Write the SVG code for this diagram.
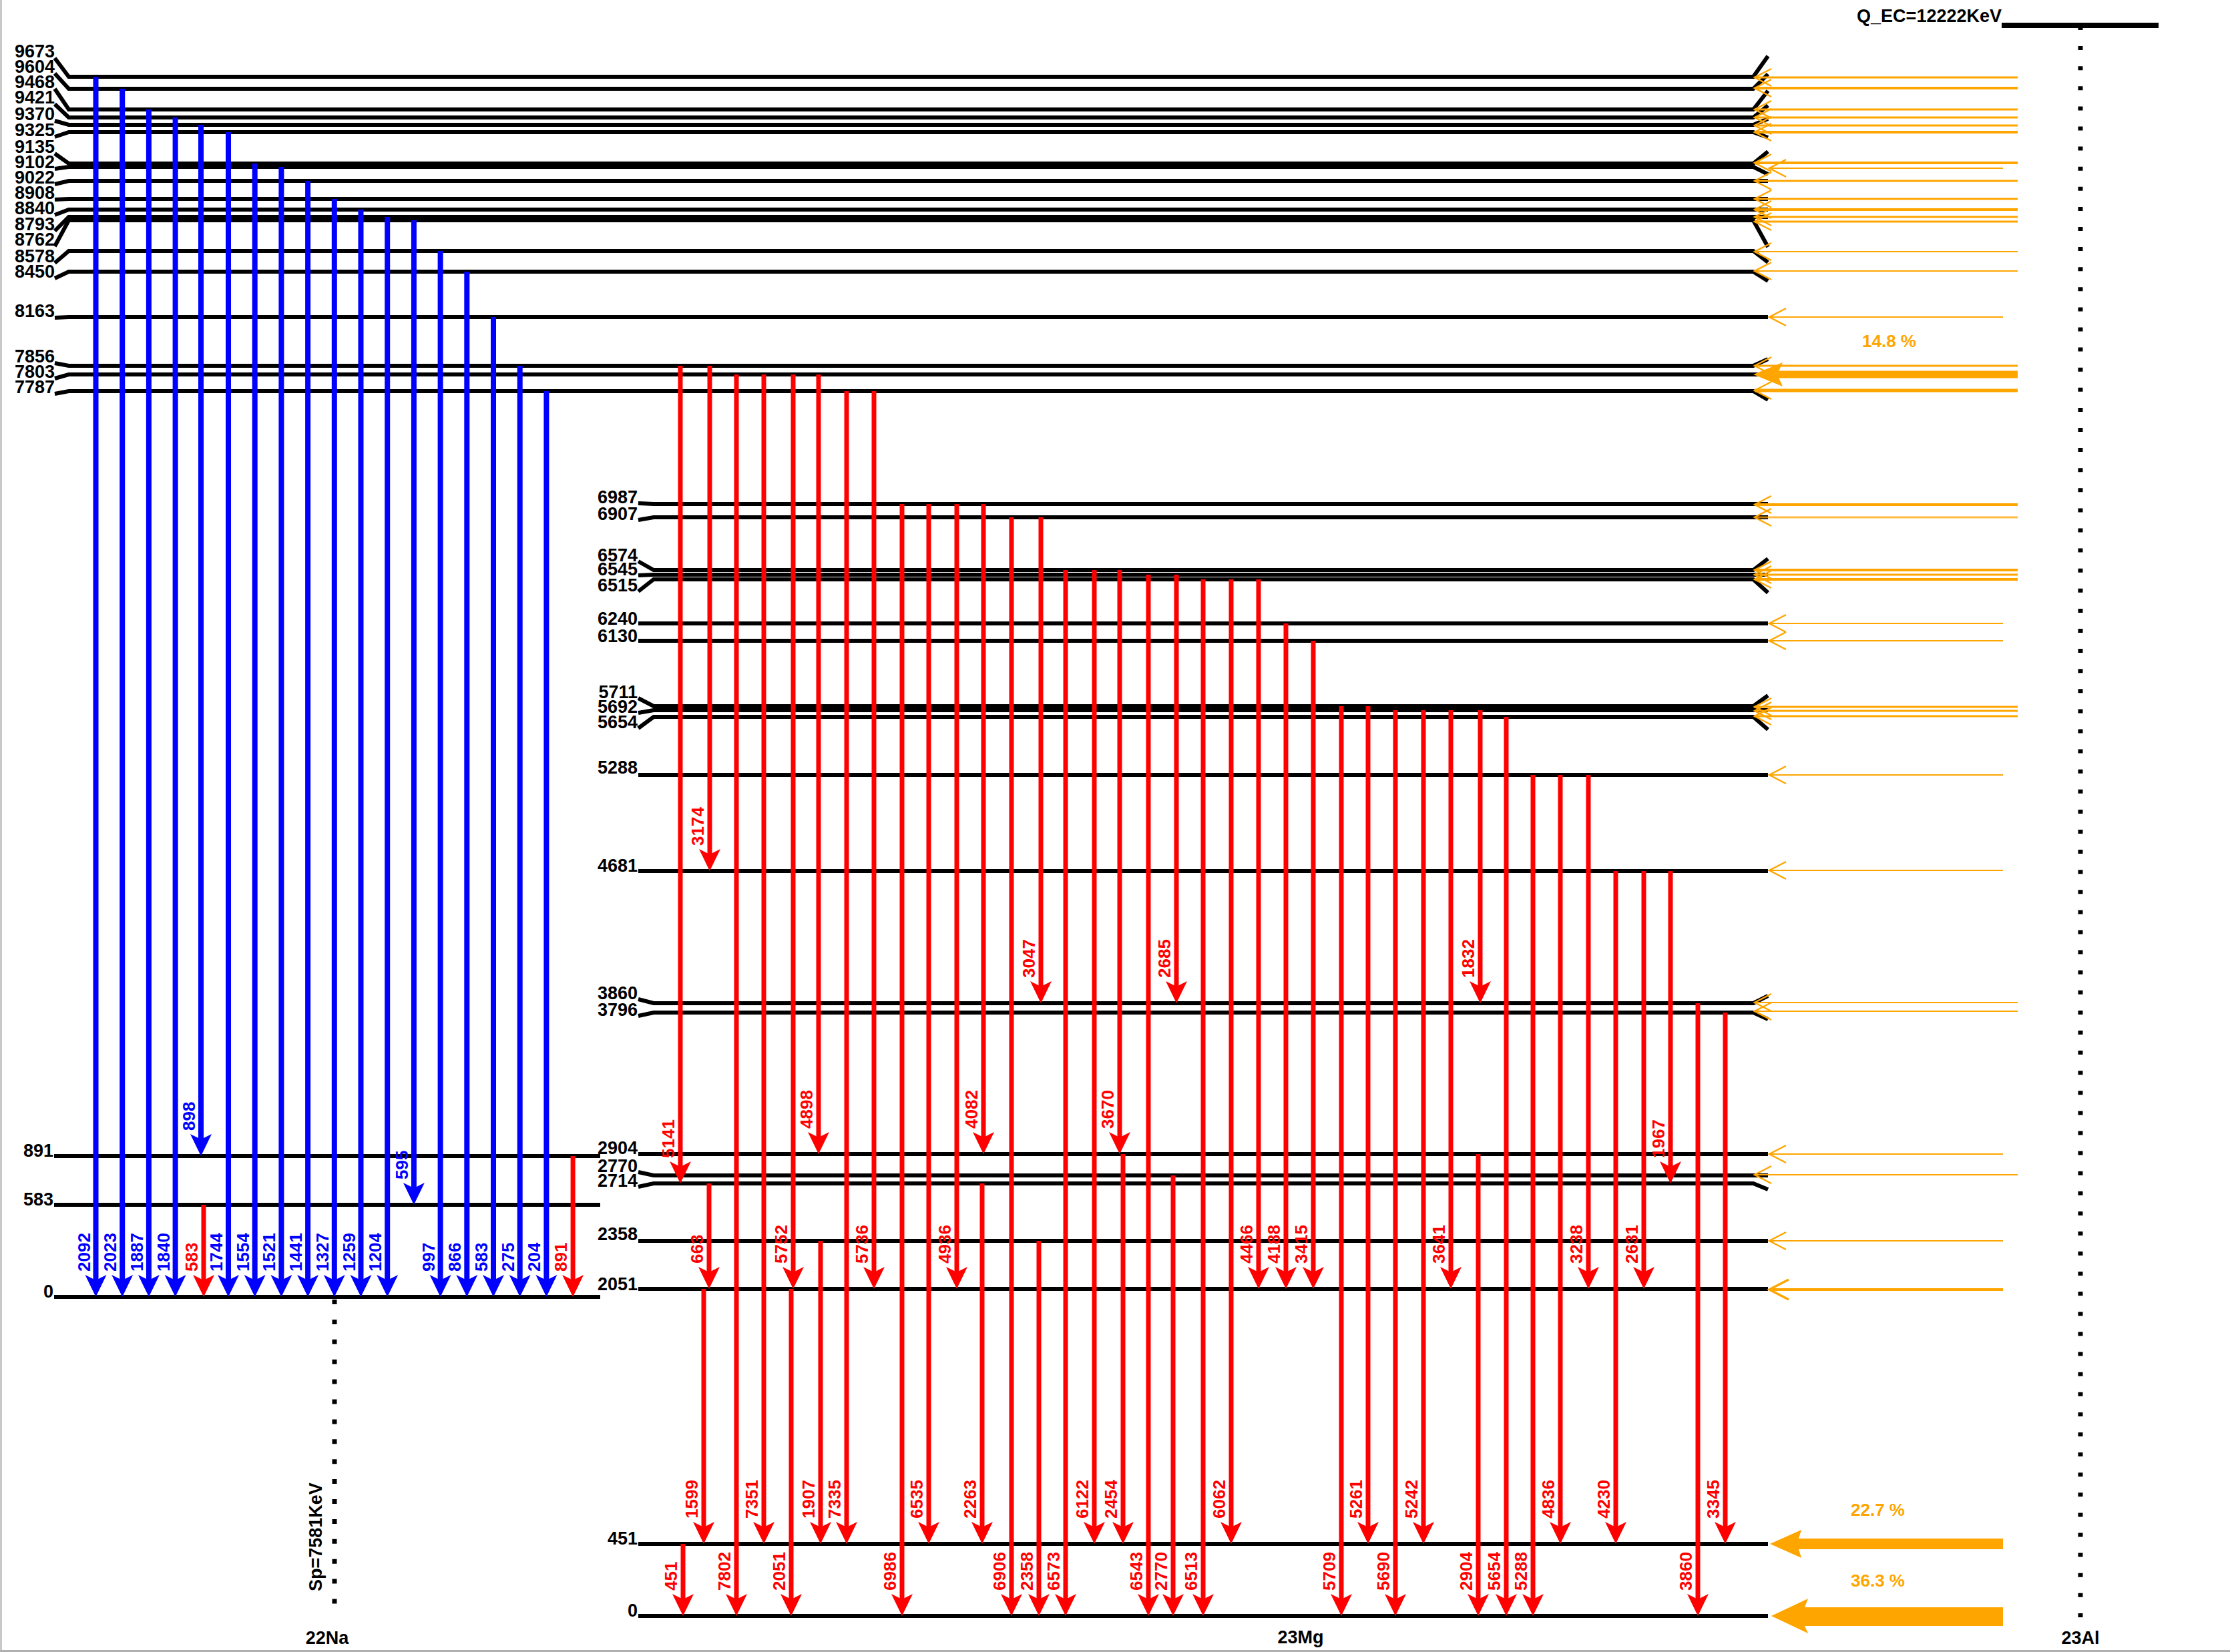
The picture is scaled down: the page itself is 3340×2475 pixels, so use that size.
<svg xmlns="http://www.w3.org/2000/svg" width="3340" height="2475" viewBox="0 0 3340 2475">
<style>
text{font-family:"Liberation Sans",Arial,Helvetica,sans-serif;font-weight:bold}
.lv{fill:none;stroke:#000;stroke-width:6}
.t{font-size:27px;fill:#000}
.e{text-anchor:end}
.sb{fill:none;stroke:#0000ff;stroke-width:8}
.sr{fill:none;stroke:#ff0000;stroke-width:7}
.tb{font-size:26px;fill:#0000ff}
.tr{font-size:26px;fill:#ff0000}
.o{fill:none;stroke:#ffa500}
.of{fill:#ffa500}
.to{font-size:26px;fill:#ffa500}
.dot{fill:none;stroke:#000;stroke-width:7}
</style>
<defs>
<marker id="ahb" viewBox="-10 -18 36 36" markerWidth="36" markerHeight="36" markerUnits="userSpaceOnUse" refX="0" refY="0" orient="auto" overflow="visible"><path d="M25,0 L-8,-16 L0,0 L-8,16 Z" fill="#0000ff"/></marker>
<marker id="ahr" viewBox="-10 -18 36 36" markerWidth="36" markerHeight="36" markerUnits="userSpaceOnUse" refX="0" refY="0" orient="auto" overflow="visible"><path d="M25,0 L-8,-16 L0,0 L-8,16 Z" fill="#ff0000"/></marker>
<marker id="aho" viewBox="-28 -16 33 32" markerWidth="33" markerHeight="32" markerUnits="userSpaceOnUse" refX="0" refY="0" orient="auto" overflow="visible"><path d="M-25,-13 L0,0 L-25,13" fill="none" stroke="#ffa500" stroke-width="2.5"/></marker>
<marker id="ahob" viewBox="-32 -18 37 36" markerWidth="37" markerHeight="36" markerUnits="userSpaceOnUse" refX="0" refY="0" orient="auto" overflow="visible"><path d="M-29,-15 L0,0 L-29,15" fill="none" stroke="#ffa500" stroke-width="3.5"/></marker>
</defs>
<rect width="3340" height="2475" fill="#fff"/>
<line x1="1.5" y1="0" x2="1.5" y2="2475" stroke="#c8c8c8" stroke-width="3"/>
<line x1="0" y1="2473.5" x2="3340" y2="2473.5" stroke="#b0b0b0" stroke-width="3"/>

<!-- upper 23Mg levels (above Sp) -->
<g id="lv-9673"><path class="lv" d="M82,87 L103,115 H2626 L2648,84"/><text class="t e" x="82" y="86">9673</text></g>
<g id="lv-9604"><path class="lv" d="M82,110 L103,133 H2626 L2648,111"/><text class="t e" x="82" y="109">9604</text></g>
<g id="lv-9468"><path class="lv" d="M82,133 L103,164 H2626 L2648,136"/><text class="t e" x="82" y="132">9468</text></g>
<g id="lv-9421"><path class="lv" d="M82,156 L103,176 H2626 L2648,158"/><text class="t e" x="82" y="155">9421</text></g>
<g id="lv-9370"><path class="lv" d="M82,181 L103,187 H2626 L2648,178"/><text class="t e" x="82" y="180">9370</text></g>
<g id="lv-9325"><path class="lv" d="M82,205 L103,198 H2626 L2648,206"/><text class="t e" x="82" y="204">9325</text></g>
<g id="lv-9135"><path class="lv" d="M82,230 L103,245 H2626 L2648,227"/><text class="t e" x="82" y="229">9135</text></g>
<g id="lv-9102"><path class="lv" d="M82,253 L103,250 H2626 L2648,261"/><text class="t e" x="82" y="252">9102</text></g>
<g id="lv-9022"><path class="lv" d="M82,276 L103,271 H2648"/><text class="t e" x="82" y="275">9022</text></g>
<g id="lv-8908"><path class="lv" d="M82,299 L103,298 H2648"/><text class="t e" x="82" y="298">8908</text></g>
<g id="lv-8840"><path class="lv" d="M82,322 L103,314 H2648"/><text class="t e" x="82" y="321">8840</text></g>
<g id="lv-8793"><path class="lv" d="M82,346 L103,325 H2648"/><text class="t e" x="82" y="345">8793</text></g>
<g id="lv-8762"><path class="lv" d="M82,369 L103,330 H2626 L2648,370"/><text class="t e" x="82" y="368">8762</text></g>
<g id="lv-8578"><path class="lv" d="M82,394 L103,376 H2626 L2648,393"/><text class="t e" x="82" y="393">8578</text></g>
<g id="lv-8450"><path class="lv" d="M82,417 L103,407 H2626 L2648,421"/><text class="t e" x="82" y="416">8450</text></g>
<g id="lv-8163"><path class="lv" d="M82,476 L103,475 H2648"/><text class="t e" x="82" y="475">8163</text></g>
<g id="lv-7856"><path class="lv" d="M82,544 L103,548 H2626 L2648,538"/><text class="t e" x="82" y="543">7856</text></g>
<g id="lv-7803"><path class="lv" d="M82,567 L103,561 H2648"/><text class="t e" x="82" y="566">7803</text></g>
<g id="lv-7787"><path class="lv" d="M82,590 L103,586 H2626 L2648,599"/><text class="t e" x="82" y="589">7787</text></g>

<!-- lower 23Mg levels -->
<g id="lv-6987"><path class="lv" d="M956,754 L979,755 H2648"/><text class="t e" x="955" y="754">6987</text></g>
<g id="lv-6907"><path class="lv" d="M956,779 L979,775 H2648"/><text class="t e" x="955" y="779">6907</text></g>
<g id="lv-6574"><path class="lv" d="M956,841 L979,854 H2626 L2648,837"/><text class="t e" x="955" y="841">6574</text></g>
<g id="lv-6545"><path class="lv" d="M956,862 L979,861 H2648"/><text class="t e" x="955" y="862">6545</text></g>
<g id="lv-6515"><path class="lv" d="M956,886 L979,868 H2626 L2648,888"/><text class="t e" x="955" y="886">6515</text></g>
<g id="lv-6240"><path class="lv" d="M956,934 H2648"/><text class="t e" x="955" y="936">6240</text></g>
<g id="lv-6130"><path class="lv" d="M956,960 H2648"/><text class="t e" x="955" y="962">6130</text></g>
<g id="lv-5711"><path class="lv" d="M956,1046 L979,1058 H2626 L2648,1042"/><text class="t e" x="955" y="1046">5711</text></g>
<g id="lv-5692"><path class="lv" d="M956,1068 L979,1064 H2648"/><text class="t e" x="955" y="1068">5692</text></g>
<g id="lv-5654"><path class="lv" d="M956,1091 L979,1074 H2626 L2648,1093"/><text class="t e" x="955" y="1091">5654</text></g>
<g id="lv-5288"><path class="lv" d="M956,1161 H2648"/><text class="t e" x="955" y="1159">5288</text></g>
<g id="lv-4681"><path class="lv" d="M956,1305 H2648"/><text class="t e" x="955" y="1306">4681</text></g>
<g id="lv-3860"><path class="lv" d="M956,1497 L979,1503 H2626 L2648,1492"/><text class="t e" x="955" y="1497">3860</text></g>
<g id="lv-3796"><path class="lv" d="M956,1522 L979,1517 H2626 L2648,1527"/><text class="t e" x="955" y="1522">3796</text></g>
<g id="lv-2904"><path class="lv" d="M956,1729 H2648"/><text class="t e" x="955" y="1729">2904</text></g>
<g id="lv-2770"><path class="lv" d="M956,1756 L979,1761 H2648"/><text class="t e" x="955" y="1756">2770</text></g>
<g id="lv-2714"><path class="lv" d="M956,1778 L979,1773 H2626 L2648,1782"/><text class="t e" x="955" y="1778">2714</text></g>
<g id="lv-2358"><path class="lv" d="M956,1859 H2648"/><text class="t e" x="955" y="1858">2358</text></g>
<g id="lv-2051"><path class="lv" d="M956,1931 H2648"/><text class="t e" x="955" y="1933">2051</text></g>
<g id="lv-451"><path class="lv" d="M956,2313 H2648"/><text class="t e" x="955" y="2314">451</text></g>
<g id="lv-0"><path class="lv" d="M956,2421 H2648"/><text class="t e" x="955" y="2422">0</text></g>

<!-- 22Na levels -->
<g id="na-891"><path class="lv" d="M81,1732 H899"/><text class="t e" x="80" y="1733">891</text></g>
<g id="na-583"><path class="lv" d="M81,1805 H899"/><text class="t e" x="80" y="1806">583</text></g>
<g id="na-0"><path class="lv" d="M81,1943 H899"/><text class="t e" x="80" y="1944">0</text></g>

<!-- separation / Q lines -->
<g id="sp-line"><path class="dot" d="M501,1947 V2405" stroke-dasharray="7 22.9"/><text class="t" transform="translate(482,2384) rotate(-90)">Sp=7581KeV</text></g>
<g id="q-23al"><path d="M2998,38 H3233" stroke="#000" stroke-width="8"/><text class="t e" x="2998" y="33">Q_EC=12222KeV</text><path class="dot" d="M3116,39 V2425" stroke-width="7" stroke-dasharray="6 24.1"/></g>
<g id="nuclide-labels"><text class="t" x="490" y="2463" text-anchor="middle">22Na</text><text class="t" x="1948" y="2462" text-anchor="middle">23Mg</text><text class="t" x="3116" y="2463" text-anchor="middle">23Al</text></g>

<g id="transitions">
<!-- proton decays to 22Na (blue) -->
<path class="sb" marker-end="url(#ahb)" d="M143.5,115 V1918"/>
<path class="sb" marker-end="url(#ahb)" d="M183.2,133 V1918"/>
<path class="sb" marker-end="url(#ahb)" d="M222.9,164 V1918"/>
<path class="sb" marker-end="url(#ahb)" d="M262.6,176 V1918"/>
<path class="sb" marker-end="url(#ahb)" d="M301,187 V1707"/>
<path class="sb" marker-end="url(#ahb)" d="M342,198 V1918"/>
<path class="sb" marker-end="url(#ahb)" d="M381.7,245 V1918"/>
<path class="sb" marker-end="url(#ahb)" d="M421.4,250 V1918"/>
<path class="sb" marker-end="url(#ahb)" d="M461.1,271 V1918"/>
<path class="sb" marker-end="url(#ahb)" d="M500.8,298 V1918"/>
<path class="sb" marker-end="url(#ahb)" d="M540.5,314 V1918"/>
<path class="sb" marker-end="url(#ahb)" d="M580.2,325 V1918"/>
<path class="sb" marker-end="url(#ahb)" d="M619.9,330 V1780"/>
<path class="sb" marker-end="url(#ahb)" d="M659.6,376 V1918"/>
<path class="sb" marker-end="url(#ahb)" d="M699.3,407 V1918"/>
<path class="sb" marker-end="url(#ahb)" d="M739,475 V1918"/>
<path class="sb" marker-end="url(#ahb)" d="M778.7,548 V1918"/>
<path class="sb" marker-end="url(#ahb)" d="M818.4,586 V1918"/>
<!-- gamma in 22Na -->
<path class="sr" marker-end="url(#ahr)" d="M305,1805 V1918"/>
<path class="sr" marker-end="url(#ahr)" d="M858.1,1732 V1918"/>
<!-- gamma in 23Mg -->
<path class="sr" marker-end="url(#ahr)" d="M1019,548 V1748"/>
<path class="sr" marker-end="url(#ahr)" d="M1063,548 V1280"/>
<path class="sr" marker-end="url(#ahr)" d="M1103,561 V2396"/>
<path class="sr" marker-end="url(#ahr)" d="M1144,561 V2288"/>
<path class="sr" marker-end="url(#ahr)" d="M1188,561 V1906"/>
<path class="sr" marker-end="url(#ahr)" d="M1226,561 V1704"/>
<path class="sr" marker-end="url(#ahr)" d="M1268,586 V2288"/>
<path class="sr" marker-end="url(#ahr)" d="M1309,586 V1906"/>
<path class="sr" marker-end="url(#ahr)" d="M1351,755 V2396"/>
<path class="sr" marker-end="url(#ahr)" d="M1391,755 V2288"/>
<path class="sr" marker-end="url(#ahr)" d="M1433,755 V1906"/>
<path class="sr" marker-end="url(#ahr)" d="M1473,755 V1704"/>
<path class="sr" marker-end="url(#ahr)" d="M1515,775 V2396"/>
<path class="sr" marker-end="url(#ahr)" d="M1559,775 V1478"/>
<path class="sr" marker-end="url(#ahr)" d="M1596,854 V2396"/>
<path class="sr" marker-end="url(#ahr)" d="M1639,854 V2288"/>
<path class="sr" marker-end="url(#ahr)" d="M1677,854 V1704"/>
<path class="sr" marker-end="url(#ahr)" d="M1720,861 V2396"/>
<path class="sr" marker-end="url(#ahr)" d="M1762,861 V1478"/>
<path class="sr" marker-end="url(#ahr)" d="M1802,868 V2396"/>
<path class="sr" marker-end="url(#ahr)" d="M1844,868 V2288"/>
<path class="sr" marker-end="url(#ahr)" d="M1885,868 V1906"/>
<path class="sr" marker-end="url(#ahr)" d="M1926,934 V1906"/>
<path class="sr" marker-end="url(#ahr)" d="M1967,960 V1906"/>
<path class="sr" marker-end="url(#ahr)" d="M2009,1058 V2396"/>
<path class="sr" marker-end="url(#ahr)" d="M2049,1058 V2288"/>
<path class="sr" marker-end="url(#ahr)" d="M2090,1064 V2396"/>
<path class="sr" marker-end="url(#ahr)" d="M2132,1064 V2288"/>
<path class="sr" marker-end="url(#ahr)" d="M2173,1064 V1906"/>
<path class="sr" marker-end="url(#ahr)" d="M2217,1064 V1478"/>
<path class="sr" marker-end="url(#ahr)" d="M2256,1074 V2396"/>
<path class="sr" marker-end="url(#ahr)" d="M2296,1161 V2396"/>
<path class="sr" marker-end="url(#ahr)" d="M2337,1161 V2288"/>
<path class="sr" marker-end="url(#ahr)" d="M2379,1161 V1906"/>
<path class="sr" marker-end="url(#ahr)" d="M2420,1305 V2288"/>
<path class="sr" marker-end="url(#ahr)" d="M2462,1305 V1906"/>
<path class="sr" marker-end="url(#ahr)" d="M2502,1305 V1748"/>
<path class="sr" marker-end="url(#ahr)" d="M2543,1503 V2396"/>
<path class="sr" marker-end="url(#ahr)" d="M2584,1517 V2288"/>
<path class="sr" marker-end="url(#ahr)" d="M1023,2313 V2396"/>
<path class="sr" marker-end="url(#ahr)" d="M1062,1773 V1906"/>
<path class="sr" marker-end="url(#ahr)" d="M1054,1931 V2288"/>
<path class="sr" marker-end="url(#ahr)" d="M1185,1931 V2396"/>
<path class="sr" marker-end="url(#ahr)" d="M1229,1859 V2288"/>
<path class="sr" marker-end="url(#ahr)" d="M1471,1773 V2288"/>
<path class="sr" marker-end="url(#ahr)" d="M1556,1859 V2396"/>
<path class="sr" marker-end="url(#ahr)" d="M1682,1729 V2288"/>
<path class="sr" marker-end="url(#ahr)" d="M1757,1761 V2396"/>
<path class="sr" marker-end="url(#ahr)" d="M2214,1729 V2396"/>

<!-- beta feeding (orange) -->
<path class="o" stroke-width="3" marker-end="url(#aho)" d="M3022,116 H2628"/>
<path class="o" stroke-width="4" marker-end="url(#aho)" d="M3022,132 H2628"/>
<path class="o" stroke-width="3" marker-end="url(#aho)" d="M3022,164 H2628"/>
<path class="o" stroke-width="3" marker-end="url(#aho)" d="M3022,176 H2628"/>
<path class="o" stroke-width="3" marker-end="url(#aho)" d="M3022,188 H2628"/>
<path class="o" stroke-width="4" marker-end="url(#aho)" d="M3022,198 H2628"/>
<path class="o" stroke-width="4" marker-end="url(#aho)" d="M3022,244 H2628"/>
<path class="o" stroke-width="2" marker-end="url(#aho)" d="M3000,252 H2650"/>
<path class="o" stroke-width="3" marker-end="url(#aho)" d="M3022,271 H2628"/>
<path class="o" stroke-width="3" marker-end="url(#aho)" d="M3022,298 H2628"/>
<path class="o" stroke-width="4" marker-end="url(#aho)" d="M3022,314 H2628"/>
<path class="o" stroke-width="3" marker-end="url(#aho)" d="M3022,325 H2628"/>
<path class="o" stroke-width="3" marker-end="url(#aho)" d="M3022,332 H2628"/>
<path class="o" stroke-width="2" marker-end="url(#aho)" d="M3022,377 H2628"/>
<path class="o" stroke-width="2" marker-end="url(#aho)" d="M3022,406 H2628"/>
<path class="o" stroke-width="2" marker-end="url(#aho)" d="M3000,475 H2650"/>
<path class="o" stroke-width="3" marker-end="url(#aho)" d="M3022,548 H2628"/>
<path class="o" stroke-width="11" d="M3022,561 H2660"/>
<polygon class="of" points="2626,561 2670,543 2662,561 2670,579"/>
<path class="o" stroke-width="5" marker-end="url(#aho)" d="M3022,585 H2628"/>
<path class="o" stroke-width="4" marker-end="url(#aho)" d="M3022,756 H2628"/>
<path class="o" stroke-width="3" stroke-opacity="0.75" marker-end="url(#aho)" d="M3022,775 H2628"/>
<path class="o" stroke-width="4" marker-end="url(#aho)" d="M3022,854 H2628"/>
<path class="o" stroke-width="3" marker-end="url(#aho)" d="M3022,861 H2628"/>
<path class="o" stroke-width="4" marker-end="url(#aho)" d="M3022,868 H2628"/>
<path class="o" stroke-width="2" marker-end="url(#aho)" d="M3000,934 H2650"/>
<path class="o" stroke-width="2" marker-end="url(#aho)" d="M3000,960 H2650"/>
<path class="o" stroke-width="3" marker-end="url(#aho)" d="M3022,1059 H2628"/>
<path class="o" stroke-width="3" marker-end="url(#aho)" d="M3022,1065 H2628"/>
<path class="o" stroke-width="3" marker-end="url(#aho)" d="M3022,1073 H2628"/>
<path class="o" stroke-width="2" marker-end="url(#aho)" d="M3000,1161 H2650"/>
<path class="o" stroke-width="2" marker-end="url(#aho)" d="M3000,1304 H2650"/>
<path class="o" stroke-width="2" marker-end="url(#aho)" d="M3022,1502 H2628"/>
<path class="o" stroke-width="2" marker-end="url(#aho)" d="M3022,1515 H2628"/>
<path class="o" stroke-width="2" marker-end="url(#aho)" d="M3000,1729 H2650"/>
<path class="o" stroke-width="2" marker-end="url(#aho)" d="M3022,1760 H2628"/>
<path class="o" stroke-width="2" marker-end="url(#aho)" d="M3000,1859 H2650"/>
<path class="o" stroke-width="4" marker-end="url(#ahob)" d="M3000,1932 H2650"/>
<polygon class="of" points="2651,2313 2698,2292 2694,2305 3000,2305 3000,2321 2694,2321 2698,2334"/>
<polygon class="of" points="2653,2421 2708,2395 2703,2408 3000,2408 3000,2436 2703,2436 2708,2447"/>
</g>

<g id="transition-labels">
<text class="tb" transform="translate(134.5,1905) rotate(-90)">2092</text>
<text class="tb" transform="translate(174.2,1905) rotate(-90)">2023</text>
<text class="tb" transform="translate(213.9,1905) rotate(-90)">1887</text>
<text class="tb" transform="translate(253.6,1905) rotate(-90)">1840</text>
<text class="tb" transform="translate(292,1694) rotate(-90)">898</text>
<text class="tr" transform="translate(296,1905) rotate(-90)">583</text>
<text class="tb" transform="translate(333,1905) rotate(-90)">1744</text>
<text class="tb" transform="translate(372.7,1905) rotate(-90)">1554</text>
<text class="tb" transform="translate(412.4,1905) rotate(-90)">1521</text>
<text class="tb" transform="translate(452.1,1905) rotate(-90)">1441</text>
<text class="tb" transform="translate(491.8,1905) rotate(-90)">1327</text>
<text class="tb" transform="translate(531.5,1905) rotate(-90)">1259</text>
<text class="tb" transform="translate(571.2,1905) rotate(-90)">1204</text>
<text class="tb" transform="translate(610.9,1767) rotate(-90)">595</text>
<text class="tb" transform="translate(650.6,1905) rotate(-90)">997</text>
<text class="tb" transform="translate(690.3,1905) rotate(-90)">866</text>
<text class="tb" transform="translate(730,1905) rotate(-90)">583</text>
<text class="tb" transform="translate(769.7,1905) rotate(-90)">275</text>
<text class="tb" transform="translate(809.4,1905) rotate(-90)">204</text>
<text class="tr" transform="translate(849.1,1905) rotate(-90)">891</text>

<text class="tr" transform="translate(1010,1735) rotate(-90)">5141</text>
<text class="tr" transform="translate(1054,1267) rotate(-90)">3174</text>
<text class="tr" transform="translate(1094,2383) rotate(-90)">7802</text>
<text class="tr" transform="translate(1135,2275) rotate(-90)">7351</text>
<text class="tr" transform="translate(1179,1893) rotate(-90)">5752</text>
<text class="tr" transform="translate(1217,1691) rotate(-90)">4898</text>
<text class="tr" transform="translate(1259,2275) rotate(-90)">7335</text>
<text class="tr" transform="translate(1300,1893) rotate(-90)">5736</text>
<text class="tr" transform="translate(1342,2383) rotate(-90)">6986</text>
<text class="tr" transform="translate(1382,2275) rotate(-90)">6535</text>
<text class="tr" transform="translate(1424,1893) rotate(-90)">4936</text>
<text class="tr" transform="translate(1464,1691) rotate(-90)">4082</text>
<text class="tr" transform="translate(1506,2383) rotate(-90)">6906</text>
<text class="tr" transform="translate(1550,1465) rotate(-90)">3047</text>
<text class="tr" transform="translate(1587,2383) rotate(-90)">6573</text>
<text class="tr" transform="translate(1630,2275) rotate(-90)">6122</text>
<text class="tr" transform="translate(1668,1691) rotate(-90)">3670</text>
<text class="tr" transform="translate(1711,2383) rotate(-90)">6543</text>
<text class="tr" transform="translate(1753,1465) rotate(-90)">2685</text>
<text class="tr" transform="translate(1793,2383) rotate(-90)">6513</text>
<text class="tr" transform="translate(1835,2275) rotate(-90)">6062</text>
<text class="tr" transform="translate(1876,1893) rotate(-90)">4466</text>
<text class="tr" transform="translate(1917,1893) rotate(-90)">4188</text>
<text class="tr" transform="translate(1958,1893) rotate(-90)">3415</text>
<text class="tr" transform="translate(2000,2383) rotate(-90)">5709</text>
<text class="tr" transform="translate(2040,2275) rotate(-90)">5261</text>
<text class="tr" transform="translate(2081,2383) rotate(-90)">5690</text>
<text class="tr" transform="translate(2123,2275) rotate(-90)">5242</text>
<text class="tr" transform="translate(2164,1893) rotate(-90)">3641</text>
<text class="tr" transform="translate(2208,1465) rotate(-90)">1832</text>
<text class="tr" transform="translate(2247,2383) rotate(-90)">5654</text>
<text class="tr" transform="translate(2287,2383) rotate(-90)">5288</text>
<text class="tr" transform="translate(2328,2275) rotate(-90)">4836</text>
<text class="tr" transform="translate(2370,1893) rotate(-90)">3238</text>
<text class="tr" transform="translate(2411,2275) rotate(-90)">4230</text>
<text class="tr" transform="translate(2453,1893) rotate(-90)">2631</text>
<text class="tr" transform="translate(2493,1735) rotate(-90)">1967</text>
<text class="tr" transform="translate(2534,2383) rotate(-90)">3860</text>
<text class="tr" transform="translate(2575,2275) rotate(-90)">3345</text>
<text class="tr" transform="translate(1014,2383) rotate(-90)">451</text>
<text class="tr" transform="translate(1053,1893) rotate(-90)">663</text>
<text class="tr" transform="translate(1045,2275) rotate(-90)">1599</text>
<text class="tr" transform="translate(1176,2383) rotate(-90)">2051</text>
<text class="tr" transform="translate(1220,2275) rotate(-90)">1907</text>
<text class="tr" transform="translate(1462,2275) rotate(-90)">2263</text>
<text class="tr" transform="translate(1547,2383) rotate(-90)">2358</text>
<text class="tr" transform="translate(1673,2275) rotate(-90)">2454</text>
<text class="tr" transform="translate(1748,2383) rotate(-90)">2770</text>
<text class="tr" transform="translate(2205,2383) rotate(-90)">2904</text>

<text class="to" x="2789" y="520">14.8 %</text>
<text class="to" x="2772" y="2271">22.7 %</text>
<text class="to" x="2772" y="2377">36.3 %</text>
</g>
</svg>
